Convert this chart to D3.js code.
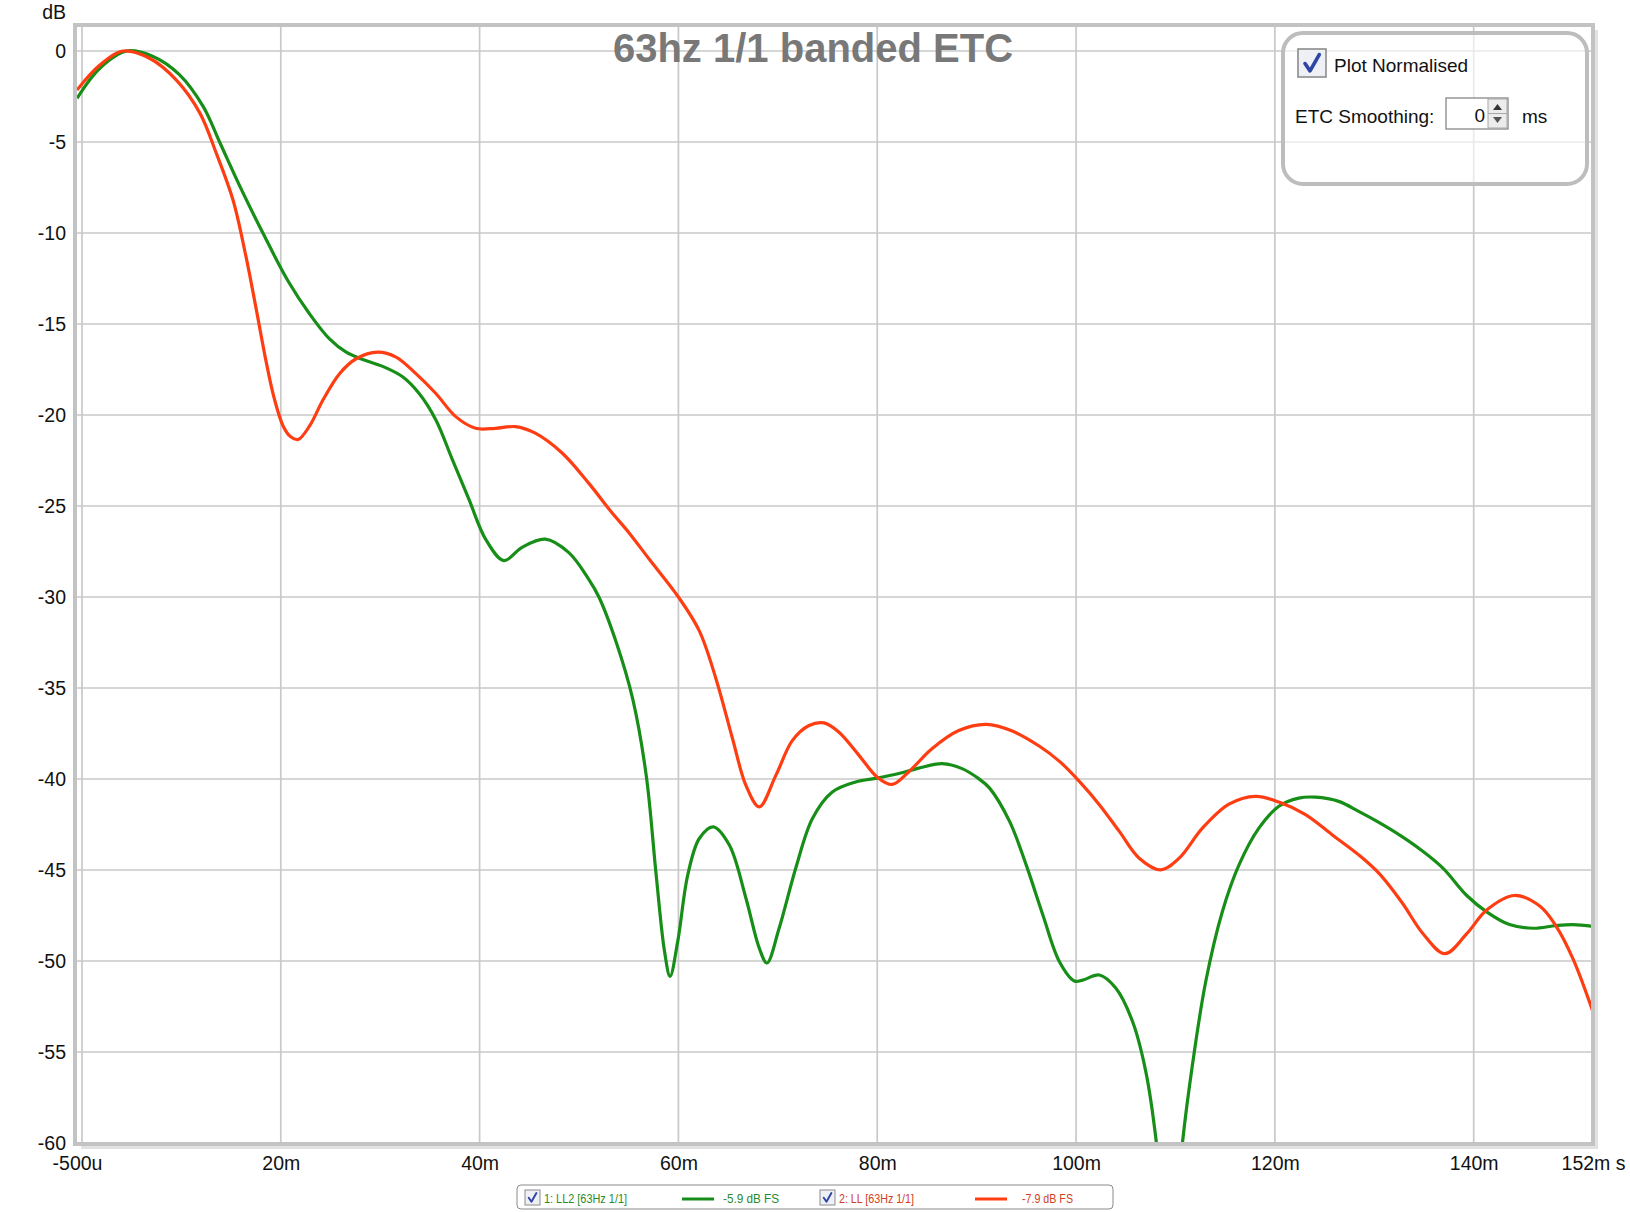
<!DOCTYPE html>
<html>
<head>
<meta charset="utf-8">
<script src="https://cdn.jsdelivr.net/npm/d3@7"></script>
<style>
  html, body { margin: 0; padding: 0; background: #ffffff; }
  svg { display: block; }
  text { font-family: "Liberation Sans", Arial, sans-serif; }
</style>
</head>
<body>
<svg id="chart" width="1630" height="1212"></svg>
<script>
// ---------- data ----------
const chartTitle = "63hz 1/1 banded ETC";
const xTickValues = [-0.5, 20, 40, 60, 80, 100, 120, 140, 152];
const xTickLabels = ["-500u", "20m", "40m", "60m", "80m", "100m", "120m", "140m", "152m s"];
const xGridValues = [0, 20, 40, 60, 80, 100, 120, 140];
const yTickValues = [0, -5, -10, -15, -20, -25, -30, -35, -40, -45, -50, -55, -60];

const seriesNames = ["1: LL2 [63Hz 1/1]", "2: LL [63Hz 1/1]"];
const seriesLevels = ["-5.9 dB FS", "-7.9 dB FS"];

const greenTimes = [-0.5, 1.8, 4.5, 7.15, 9.8, 12.2, 13.9, 15.9, 18.2, 20.73, 22.9, 24.9, 26.58, 28.25, 30.25, 32.25, 33.92, 35.6, 37.26, 38.93, 40.6, 42.44, 44.27, 46.6, 48.95, 50.95, 52.0, 53.75, 55.4, 56.76, 57.76, 58.6, 59.16, 59.93, 60.94, 62.1, 63.5, 65.12, 66.79, 68.13, 68.9, 70.13, 71.8, 73.48, 75.48, 77.83, 80, 82.17, 84.18, 86.52, 88.53, 90.2, 91.3, 93.31, 94.98, 96.66, 98.33, 99.83, 100.67, 102.34, 104.01, 105.69, 107.02, 108.09, 109.4, 110.7, 111.7, 113.04, 114.72, 116.39, 118.39, 120.4, 122.4, 124.08, 126.42, 128.43, 130.5, 132.6, 134.7, 136.9, 139.3, 141.3, 143.6, 146, 148.3, 150, 152];
const greenDb = [-2.6, -0.95, 0, -0.3, -1.3, -3.06, -5.07, -7.45, -10.0, -12.64, -14.45, -15.82, -16.55, -16.95, -17.33, -17.9, -18.82, -20.27, -22.45, -24.64, -26.82, -28.0, -27.27, -26.82, -27.55, -29.0, -30.0, -32.5, -35.6, -39.8, -45.27, -49.47, -50.84, -48.92, -45.27, -43.27, -42.63, -43.63, -46.55, -49.29, -50.11, -48.2, -44.9, -42.17, -40.71, -40.16, -39.95, -39.7, -39.4, -39.16, -39.43, -39.98, -40.5, -42.33, -44.72, -47.47, -50.04, -51.1, -51.05, -50.77, -51.5, -53.34, -56.09, -60.03, -68, -60, -55.73, -51.14, -47.28, -44.72, -42.7, -41.5, -41.05, -41.0, -41.23, -41.78, -42.4, -43.1, -43.9, -44.9, -46.4, -47.3, -48.0, -48.2, -48.05, -48.0, -48.1];

const redTimes = [-0.5, 1.8, 4.15, 6.8, 9.5, 11.85, 13.5, 15.2, 16.5, 17.5, 18.5, 19.3, 20.23, 21.0, 21.74, 22.9, 24.24, 25.91, 27.58, 29.75, 31.59, 33.59, 35.6, 37.6, 39.6, 41.6, 43.6, 45.6, 48.3, 50.95, 53.3, 55.0, 57.09, 60, 62.1, 63.78, 65.45, 66.79, 68.13, 69.8, 71.47, 73.14, 74.65, 76.15, 78.16, 80, 81.5, 83.18, 85.5, 88.2, 90.97, 93.65, 96.32, 98.33, 100.33, 102.34, 104.35, 106.35, 108.53, 110.37, 112.71, 115.38, 118.06, 120.4, 123.08, 125.75, 128.43, 130.5, 132.8, 134.9, 137.1, 139.3, 141.3, 144.1, 146.7, 148.3, 150, 152];
const redDb = [-2.14, -0.77, 0, -0.4, -1.6, -3.4, -5.6, -8.2, -11.3, -14.1, -17.0, -19.0, -20.6, -21.2, -21.35, -20.6, -19.18, -17.73, -16.91, -16.55, -16.82, -17.73, -18.82, -20.09, -20.73, -20.73, -20.64, -21.0, -22.09, -23.73, -25.36, -26.45, -27.94, -30, -31.86, -34.5, -37.8, -40.35, -41.53, -39.8, -37.88, -37.06, -36.92, -37.43, -38.7, -39.9, -40.3, -39.6, -38.34, -37.34, -37.0, -37.38, -38.2, -39.03, -40.13, -41.41, -42.88, -44.35, -44.99, -44.35, -42.7, -41.38, -40.95, -41.27, -41.96, -43.06, -44.17, -45.2, -46.8, -48.5, -49.6, -48.5, -47.2, -46.4, -47.0, -48.1, -49.9, -52.8];

const greenColor = "#178e17";
const redColor = "#ff3d12";

// ---------- layout ----------
const svg = d3.select("#chart");
const plotLeft = 77, plotRight = 1593, plotTop = 26, plotBottom = 1144;
const x = d3.scaleLinear().domain([-0.5, 152]).range([plotLeft, plotRight]);
const y = d3.scaleLinear().domain([-60, 0]).range([1143, 51]);

// white plot background
svg.append("rect").attr("x", plotLeft).attr("y", plotTop)
  .attr("width", plotRight - plotLeft).attr("height", plotBottom - plotTop)
  .attr("fill", "#ffffff");

// grid
const grid = svg.append("g").attr("stroke", "#c9c9c9").attr("stroke-width", 1.7);
grid.selectAll("line.v").data(xGridValues).join("line").attr("class", "v")
  .attr("x1", d => x(d)).attr("x2", d => x(d))
  .attr("y1", plotTop).attr("y2", plotBottom);
grid.selectAll("line.h").data(yTickValues).join("line").attr("class", "h")
  .attr("x1", plotLeft).attr("x2", plotRight)
  .attr("y1", d => y(d)).attr("y2", d => y(d));

// title
svg.append("text").attr("x", 813).attr("y", 62)
  .attr("text-anchor", "middle").attr("font-size", 40).attr("font-weight", "bold")
  .attr("fill", "#787878").text(chartTitle);

// curves
svg.append("clipPath").attr("id", "plotClip").append("rect")
  .attr("x", plotLeft).attr("y", plotTop)
  .attr("width", plotRight - plotLeft).attr("height", 1143 - plotTop);

const line = d3.line().x(d => x(d[0])).y(d => y(d[1])).curve(d3.curveCatmullRom.alpha(0.5));
const greenData = d3.zip(greenTimes, greenDb);
const redData = d3.zip(redTimes, redDb);
const curves = svg.append("g").attr("clip-path", "url(#plotClip)");
curves.append("path").datum(greenData).attr("d", line)
  .attr("fill", "none").attr("stroke", greenColor).attr("stroke-width", 3.2)
  .attr("stroke-linejoin", "round");
curves.append("path").datum(redData).attr("d", line)
  .attr("fill", "none").attr("stroke", redColor).attr("stroke-width", 3.2)
  .attr("stroke-linejoin", "round");

// frame with shadow
svg.append("path")
  .attr("d", `M${plotRight + 3},${plotTop + 4} V${plotBottom + 3} H${plotLeft + 4}`)
  .attr("fill", "none").attr("stroke", "#e2e2e2").attr("stroke-width", 4);
svg.append("rect").attr("x", 75).attr("y", 25)
  .attr("width", plotRight - 75).attr("height", plotBottom - 25)
  .attr("fill", "none").attr("stroke", "#c3c3c3").attr("stroke-width", 4);

// y axis labels
const yAxis = d3.axisLeft(y).tickValues(yTickValues).tickSize(0).tickPadding(0)
  .tickFormat(d => String(d));
const yg = svg.append("g").attr("transform", "translate(66,0)").call(yAxis);
yg.select(".domain").remove();
yg.selectAll("text").attr("font-size", 19.5).attr("fill", "#111")
  .attr("font-family", "'Liberation Sans', Arial, sans-serif");
svg.append("text").attr("x", 66).attr("y", 19).attr("text-anchor", "end")
  .attr("font-size", 19.5).attr("fill", "#111").text("dB");

// x axis labels
const xAxis = d3.axisBottom(x).tickValues(xTickValues).tickSize(0).tickPadding(0)
  .tickFormat((d, i) => xTickLabels[i]);
const xg = svg.append("g").attr("transform", "translate(0,1156)").call(xAxis);
xg.select(".domain").remove();
xg.selectAll("text").attr("font-size", 19.5).attr("fill", "#111")
  .attr("font-family", "'Liberation Sans', Arial, sans-serif");

// ---------- control box (top right) ----------
const ctl = svg.append("g");
ctl.append("rect").attr("x", 1283).attr("y", 33).attr("width", 304).attr("height", 151)
  .attr("rx", 20).attr("fill", "#ffffff").attr("fill-opacity", 0.6)
  .attr("stroke", "#bdbdbd").attr("stroke-width", 4);

function checkbox(g, cx, cy, s) {
  g.append("rect").attr("x", cx).attr("y", cy).attr("width", s).attr("height", s)
    .attr("fill", "#eef0f6").attr("stroke", "#8c8c8c").attr("stroke-width", s > 20 ? 1.6 : 1);
  g.append("path")
    .attr("d", `M${cx + s * 0.25},${cy + s * 0.52} L${cx + s * 0.43},${cy + s * 0.78} L${cx + s * 0.76},${cy + s * 0.2}`)
    .attr("fill", "none").attr("stroke", "#2d46a6").attr("stroke-width", s * 0.13)
    .attr("stroke-linecap", "round").attr("stroke-linejoin", "round");
}
checkbox(ctl, 1298, 49, 28);
ctl.append("text").attr("x", 1334).attr("y", 72).attr("font-size", 19).attr("fill", "#111")
  .text("Plot Normalised");
ctl.append("text").attr("x", 1295).attr("y", 123).attr("font-size", 19).attr("fill", "#111")
  .text("ETC Smoothing:");
ctl.append("rect").attr("x", 1446).attr("y", 98).attr("width", 62).attr("height", 31)
  .attr("fill", "#ffffff").attr("stroke", "#7d7d7d").attr("stroke-width", 1.2);
ctl.append("rect").attr("x", 1488).attr("y", 99).attr("width", 19).attr("height", 29)
  .attr("fill", "#ececec").attr("stroke", "#a8a8a8").attr("stroke-width", 1);
ctl.append("line").attr("x1", 1488).attr("x2", 1507).attr("y1", 113.5).attr("y2", 113.5)
  .attr("stroke", "#a8a8a8").attr("stroke-width", 1);
ctl.append("path").attr("d", "M1493,110 L1497.5,104 L1502,110 Z").attr("fill", "#333");
ctl.append("path").attr("d", "M1493,117 L1497.5,123 L1502,117 Z").attr("fill", "#555");
ctl.append("text").attr("x", 1485).attr("y", 122).attr("text-anchor", "end")
  .attr("font-size", 19).attr("fill", "#111").text("0");
ctl.append("text").attr("x", 1522).attr("y", 123).attr("font-size", 19).attr("fill", "#111")
  .text("ms");

// ---------- bottom legend ----------
const lg = svg.append("g");
lg.append("rect").attr("x", 517).attr("y", 1185).attr("width", 596).attr("height", 24)
  .attr("rx", 4).attr("fill", "#ffffff").attr("stroke", "#8a8a8a").attr("stroke-width", 1);
const legendItems = [
  { name: seriesNames[0], level: seriesLevels[0], color: greenColor, text: "#2a8a2a",
    box: 525, nameX: 544, nameW: 83, lineX: 682, levelX: 723, levelW: 56 },
  { name: seriesNames[1], level: seriesLevels[1], color: redColor, text: "#d0401c",
    box: 820, nameX: 839, nameW: 75, lineX: 975, levelX: 1022, levelW: 51 }
];
legendItems.forEach(it => {
  checkbox(lg, it.box, 1190, 15);
  lg.append("text").attr("x", it.nameX).attr("y", 1203).attr("font-size", 13.5)
    .attr("fill", it.text).attr("textLength", it.nameW).attr("lengthAdjust", "spacingAndGlyphs")
    .text(it.name);
  lg.append("line").attr("x1", it.lineX).attr("x2", it.lineX + 32).attr("y1", 1199).attr("y2", 1199)
    .attr("stroke", it.color).attr("stroke-width", 3);
  lg.append("text").attr("x", it.levelX).attr("y", 1203).attr("font-size", 13.5)
    .attr("fill", it.text).attr("textLength", it.levelW).attr("lengthAdjust", "spacingAndGlyphs")
    .text(it.level);
});
</script>
</body>
</html>
